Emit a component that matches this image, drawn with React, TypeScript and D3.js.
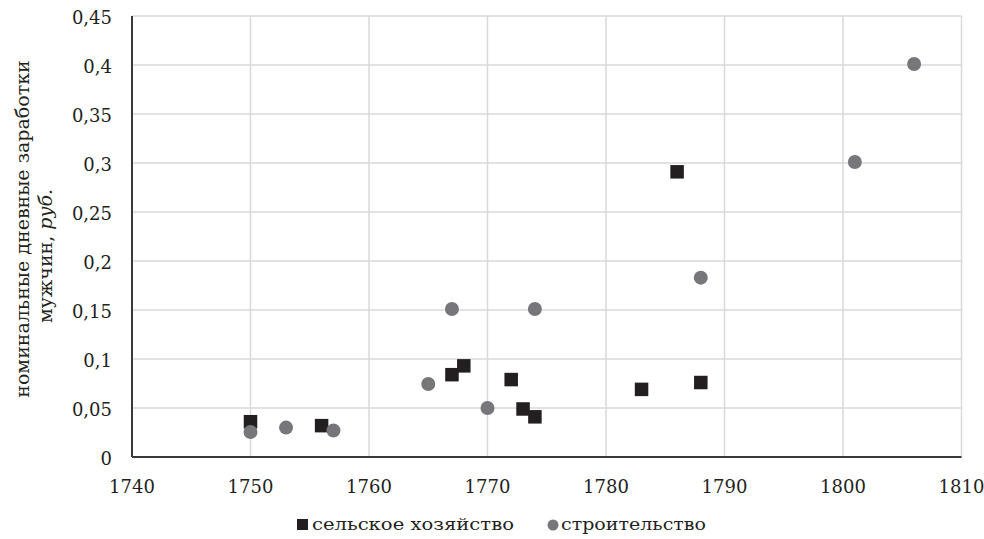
import React from "react";
import * as d3 from "d3";

const xTicks = [1740, 1750, 1760, 1770, 1780, 1790, 1800, 1810];
const yTicks = [0, 0.05, 0.1, 0.15, 0.2, 0.25, 0.3, 0.35, 0.4, 0.45];

const agriYears = [1750, 1756, 1767, 1768, 1772, 1773, 1774, 1783, 1786, 1788];
const agriValues = [0.036, 0.032, 0.084, 0.093, 0.079, 0.049, 0.041, 0.069, 0.291, 0.076];

const constrYears = [1750, 1753, 1757, 1765, 1767, 1770, 1774, 1788, 1801, 1806];
const constrValues = [0.0255, 0.03, 0.027, 0.0745, 0.151, 0.05, 0.151, 0.183, 0.301, 0.401];

const seriesNames = ["сельское хозяйство", "строительство"];

const W = 984;
const H = 539;
const font = "'DejaVu Serif', 'Liberation Serif', serif";

export default function App() {
  const x = d3.scaleLinear().domain([1740, 1810]).range([132, 961.5]);
  const y = d3.scaleLinear().domain([0, 0.45]).range([457, 16]);
  const fmt = (v: number) => (v === 0 ? "0" : String(+v.toFixed(2)).replace(".", ","));
  const sq = 13.5;
  const r = 7;
  return (
    <svg
      width={W}
      height={H}
      style={{ position: "absolute", left: 0, top: 0, background: "#fff" }}
      fontFamily={font}
    >
      {/* grid */}
      {yTicks.map((t) => (
        <line key={"gy" + t} x1={x(1740)} x2={x(1810)} y1={y(t)} y2={y(t)} stroke="#d9d9d9" strokeWidth={1.5} />
      ))}
      {xTicks.map((t) => (
        <line key={"gx" + t} x1={x(t)} x2={x(t)} y1={y(0)} y2={y(0.45)} stroke="#d9d9d9" strokeWidth={1.5} />
      ))}
      {/* axes */}
      <line x1={x(1740)} x2={x(1740)} y1={y(0.45)} y2={y(0)} stroke="#3a3a3a" strokeWidth={2} />
      <line x1={x(1740)} x2={x(1810)} y1={y(0)} y2={y(0)} stroke="#3a3a3a" strokeWidth={2} />
      {/* y tick labels */}
      {yTicks.map((t) => (
        <text key={"ly" + t} x={112} y={y(t) + 8} textAnchor="end" fontSize={18} fill="#231f20">
          {fmt(t)}
        </text>
      ))}
      {/* x tick labels */}
      {xTicks.map((t) => (
        <text key={"lx" + t} x={x(t)} y={493} textAnchor="middle" fontSize={18} fill="#231f20">
          {t}
        </text>
      ))}
      {/* y axis title */}
      <g transform="translate(29,229) rotate(-90)">
        <text x={0} y={0} textAnchor="middle" fontSize={19} fill="#231f20">
          номинальные дневные заработки
        </text>
      </g>
      <g transform="translate(52,256) rotate(-90)">
        <text x={0} y={0} textAnchor="middle" fontSize={19} fill="#231f20">
          мужчин, <tspan fontStyle="italic">руб.</tspan>
        </text>
      </g>
      {/* series: agriculture squares */}
      {agriYears.map((yr, i) => (
        <rect
          key={"a" + i}
          x={x(yr) - sq / 2}
          y={y(agriValues[i]) - sq / 2}
          width={sq}
          height={sq}
          fill="#231f20"
        />
      ))}
      {/* series: construction circles */}
      {constrYears.map((yr, i) => (
        <circle key={"c" + i} cx={x(yr)} cy={y(constrValues[i])} r={r} fill="#77777b" />
      ))}
      {/* legend */}
      <rect x={297} y={519} width={11} height={11} fill="#231f20" />
      <text x={312} y={530} fontSize={17} fill="#231f20" textLength={202} lengthAdjust="spacingAndGlyphs">
        {seriesNames[0]}
      </text>
      <circle cx={553} cy={525} r={5.5} fill="#77777b" />
      <text x={561} y={530} fontSize={17} fill="#231f20" textLength={145} lengthAdjust="spacingAndGlyphs">
        {seriesNames[1]}
      </text>
    </svg>
  );
}
